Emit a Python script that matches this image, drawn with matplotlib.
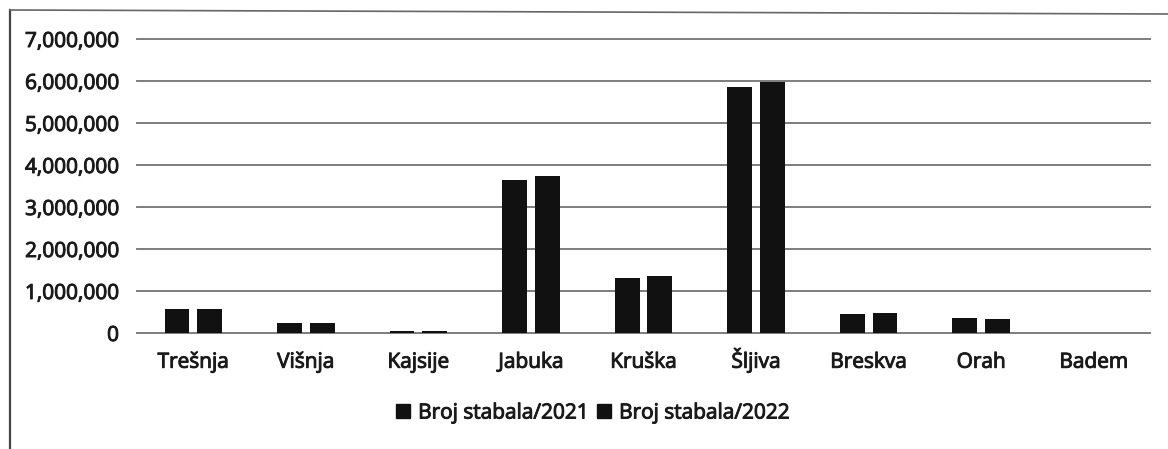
import matplotlib
matplotlib.use("Agg")
import matplotlib.pyplot as plt
import matplotlib.patheffects as pe
from matplotlib.lines import Line2D
from matplotlib.patches import Patch
import numpy as np

categories = ['Trešnja', 'Višnja', 'Kajsije', 'Jabuka', 'Kruška', 'Šljiva', 'Breskva', 'Orah', 'Badem']
trees_2021 = [560000, 250000, 40000, 3640000, 1300000, 5860000, 450000, 350000, 5000]
trees_2022 = [560000, 240000, 40000, 3750000, 1360000, 5970000, 480000, 330000, 5000]
series_labels = ['Broj stabala/2021', 'Broj stabala/2022']
y_ticks = [0, 1000000, 2000000, 3000000, 4000000, 5000000, 6000000, 7000000]

plt.rcParams['font.family'] = ['Open Sans', 'DejaVu Sans']
W, H = 1168, 449
fig = plt.figure(figsize=(W / 100, H / 100), dpi=100)
fig.patch.set_facecolor('white')

left, right, top, bottom = 137, 1150, 39, 333
ax = fig.add_axes([left / W, 1 - bottom / H, (right - left) / W, (bottom - top) / H])

x = np.arange(len(categories))
bw = 0.22
off = 0.145
bar_color = '#111111'
ax.bar(x - off, trees_2021, width=bw, color=bar_color, zorder=3)
ax.bar(x + off, trees_2022, width=bw, color=bar_color, zorder=3)

ax.set_xlim(-0.5, len(categories) - 0.5)
ax.set_ylim(0, 7000000)
ax.set_yticks(y_ticks)
ax.set_yticklabels([f'{v:,}' for v in y_ticks])
ax.set_xticks(x)
ax.set_xticklabels(categories)
grid_c = '#7d7d7d'
for v in y_ticks:
    ax.axhline(v, color=grid_c, lw=1.4, zorder=1, clip_on=False)
for s in ax.spines.values():
    s.set_visible(False)
txt_c = '#1a1a1a'
ax.tick_params(axis='both', length=0, labelsize=15, colors=txt_c)
ax.tick_params(axis='y', pad=13)
ax.tick_params(axis='x', pad=25)
thick = [pe.withStroke(linewidth=0.7, foreground=txt_c)]
for t in ax.get_xticklabels():
    t.set_verticalalignment('baseline')
for t in ax.get_xticklabels() + ax.get_yticklabels():
    t.set_path_effects(thick)

handles = [Patch(facecolor=bar_color, edgecolor=bar_color) for _ in series_labels]
leg = fig.legend(handles, series_labels, loc='center', bbox_to_anchor=(593 / W, 1 - 413 / H),
                 ncol=2, frameon=False, handlelength=0.65, handleheight=0.65,
                 handletextpad=0.4, columnspacing=0.4,
                 prop={'size': 15})
for t in leg.get_texts():
    t.set_color(txt_c)
    t.set_path_effects(thick)

# outer frame (left and top edges)
fig.add_artist(Line2D([10 / W, 10 / W], [0, 1 - 10 / H], color='#444444', lw=1.6))
fig.add_artist(Line2D([10 / W, 1], [1 - 10 / H, 1 - 14 / H], color='#666666', lw=1.2))

fig.savefig('out.png', dpi=100, facecolor='white')
